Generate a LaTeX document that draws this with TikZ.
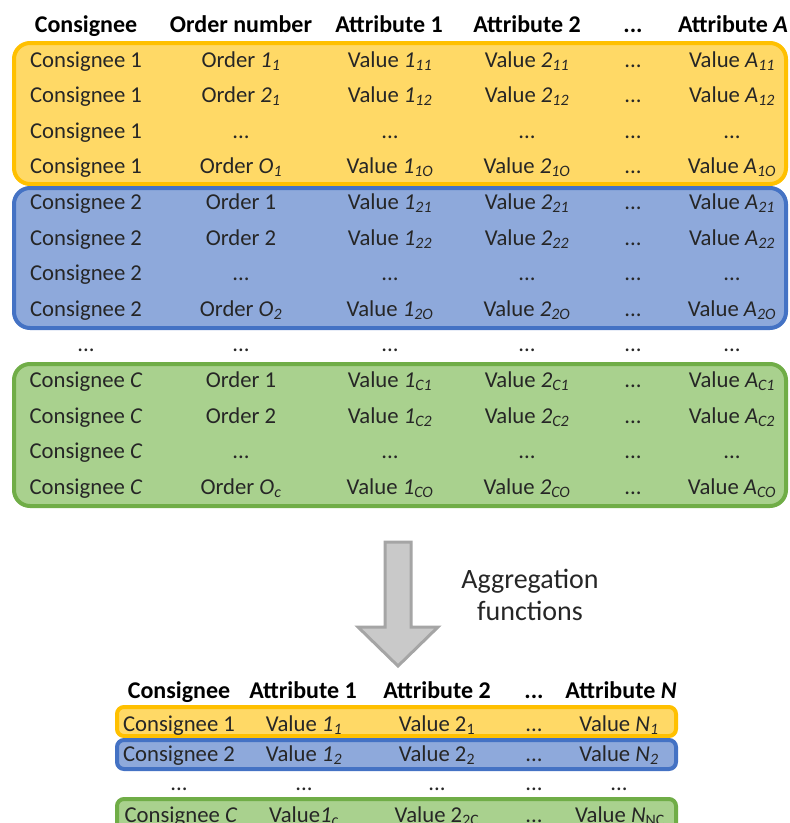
\documentclass[tikz,border=0pt]{standalone}
\usepackage{fontspec}
\setmainfont{Carlito}
\usetikzlibrary{positioning}
\definecolor{yelfill}{HTML}{FFD966}
\definecolor{yelline}{HTML}{FFC000}
\definecolor{bluefill}{HTML}{8EA9DB}
\definecolor{blueline}{HTML}{4472C4}
\definecolor{grnfill}{HTML}{A9D18E}
\definecolor{grnline}{HTML}{70AD47}
\definecolor{arrfill}{HTML}{C9C9C9}
\definecolor{arrline}{HTML}{A5A5A5}
\newcommand{\sbit}[1]{\textsubscript{\itshape #1}}
\newcommand{\sbup}[1]{\textsubscript{#1}}
\tikzset{
  cell/.style={inner sep=0pt, anchor=base, text=black!85,
    font=\fontsize{22.7}{27}\selectfont},
  head/.style={inner sep=0pt, anchor=base, font=\fontsize{24}{29}\selectfont\bfseries},
  group/.style={line width=4pt, rounded corners=16pt},
  smallgroup/.style={line width=4pt, rounded corners=7pt}
}

\begin{document}
\begin{tikzpicture}[x=1pt, y=-1pt]
            \useasboundingbox (0,0) rectangle (790,823);

            % Groups of the order table
            \filldraw[group, draw=yelline, fill=yelfill] (14,43) rectangle (786,184);
            \filldraw[group, draw=blueline, fill=bluefill] (14,188) rectangle (786,328);
            \filldraw[group, draw=grnline, fill=grnfill] (14,364) rectangle (786,506);

            % Header
            \node[head] (hcons) at (86,32) {Consignee};
            \node[head] (hord) at (241,32) {Order number};
            \node[head] (hat1) at (389,32) {Attribute 1};
            \node[head] (hat2) at (527,32) {Attribute 2};
            \node[head] (hdots) at (633,32) {...};
            \node[head] (hatA) at (733,32) {Attribute \textit{A}};

            % Order rows
            \foreach \k/\ca/\cb/\cc/\cd/\ce [evaluate=\k as \y using 67+35.6*\k] in {
                0/{Consignee 1}/{Order \textit{1}\sbit{1}}/{Value \textit{1}\sbit{11}}/{Value \textit{2}\sbit{11}}/{Value \textit{A}\sbit{11}},
                1/{Consignee 1}/{Order \textit{2}\sbit{1}}/{Value \textit{1}\sbit{12}}/{Value \textit{2}\sbit{12}}/{Value \textit{A}\sbit{12}},
                2/{Consignee 1}/{...}/{...}/{...}/{...},
                3/{Consignee 1}/{Order \textit{O}\sbit{1}}/{Value \textit{1}\sbit{1O}}/{Value \textit{2}\sbit{1O}}/{Value \textit{A}\sbit{1O}},
                4/{Consignee 2}/{Order 1}/{Value \textit{1}\sbit{21}}/{Value \textit{2}\sbit{21}}/{Value \textit{A}\sbit{21}},
                5/{Consignee 2}/{Order 2}/{Value \textit{1}\sbit{22}}/{Value \textit{2}\sbit{22}}/{Value \textit{A}\sbit{22}},
                6/{Consignee 2}/{...}/{...}/{...}/{...},
                7/{Consignee 2}/{Order \textit{O}\sbit{2}}/{Value \textit{1}\sbit{2O}}/{Value \textit{2}\sbit{2O}}/{Value \textit{A}\sbit{2O}},
                8/{...}/{...}/{...}/{...}/{...},
                9/{Consignee \textit{C}}/{Order 1}/{Value \textit{1}\sbit{C1}}/{Value \textit{2}\sbit{C1}}/{Value \textit{A}\sbit{C1}},
                10/{Consignee \textit{C}}/{Order 2}/{Value \textit{1}\sbit{C2}}/{Value \textit{2}\sbit{C2}}/{Value \textit{A}\sbit{C2}},
                11/{Consignee \textit{C}}/{...}/{...}/{...}/{...},
                12/{Consignee \textit{C}}/{Order \textit{O}\sbit{c}}/{Value \textit{1}\sbit{CO}}/{Value \textit{2}\sbit{CO}}/{Value \textit{A}\sbit{CO}}} {
                \node[cell] (r\k-cons) at (86,\y) {\ca};
                \node[cell] (r\k-ord) at (241,\y) {\cb};
                \node[cell] (r\k-at1) at (390,\y) {\cc};
                \node[cell] (r\k-at2) at (527,\y) {\cd};
                \node[cell] (r\k-dots) at (633,\y) {...};
                \node[cell] (r\k-atA) at (732,\y) {\ce};
            }

            % Aggregation arrow
            \filldraw[line width=3pt, draw=arrline, fill=arrfill, line join=miter]
                (385,542) -- (411,542) -- (411,627) -- (438,627) -- (398,666)
                -- (358,627) -- (385,627) -- cycle;
            \node[cell, font=\fontsize{28}{33}\selectfont] (aggr1) at (530,588) {Aggregation};
            \node[cell, font=\fontsize{28}{33}\selectfont] (aggr2) at (530,620) {functions};

            % Groups of the aggregated table
            \filldraw[smallgroup, draw=yelline, fill=yelfill] (117,707) rectangle (676,736);
            \filldraw[smallgroup, draw=blueline, fill=bluefill] (117,740) rectangle (676,769);
            \filldraw[smallgroup, draw=grnline, fill=grnfill] (117,799) rectangle (676,835);

            % Aggregated header
            \node[head] (acons) at (179,698) {Consignee};
            \node[head] (aat1) at (303,698) {Attribute 1};
            \node[head] (aat2) at (437,698) {Attribute 2};
            \node[head] (adots) at (534,698) {...};
            \node[head] (aatN) at (621,698) {Attribute \textit{N}};

            % Aggregated rows
            \node[cell] (a1-cons) at (179,731) {Consignee 1};
            \node[cell] (a1-at1) at (304,731) {Value \textit{1}\sbit{1}};
            \node[cell] (a1-at2) at (437,731) {Value 2\sbup{1}};
            \node[cell] (a1-dots) at (534,731) {...};
            \node[cell] (a1-atN) at (619,731) {Value \textit{N}\sbit{1}};

            \node[cell] (a2-cons) at (179,761) {Consignee 2};
            \node[cell] (a2-at1) at (304,761) {Value \textit{1}\sbit{2}};
            \node[cell] (a2-at2) at (437,761) {Value 2\sbup{2}};
            \node[cell] (a2-dots) at (534,761) {...};
            \node[cell] (a2-atN) at (619,761) {Value \textit{N}\sbit{2}};

            \node[cell] (a3-cons) at (179,790) {...};
            \node[cell] (a3-at1) at (304,790) {...};
            \node[cell] (a3-at2) at (437,790) {...};
            \node[cell] (a3-dots) at (534,790) {...};
            \node[cell] (a3-atN) at (619,790) {...};

            \node[cell] (a4-cons) at (181,822) {Consignee \textit{C}};
            \node[cell] (a4-at1) at (304,822) {Value\textit{1}\sbit{c}};
            \node[cell] (a4-at2) at (437,822) {Value 2\sbup{2C}};
            \node[cell] (a4-dots) at (534,822) {...};
            \node[cell] (a4-atN) at (620,822) {Value \textit{N}\sbup{NC}};

        \end{tikzpicture}
\end{document}
